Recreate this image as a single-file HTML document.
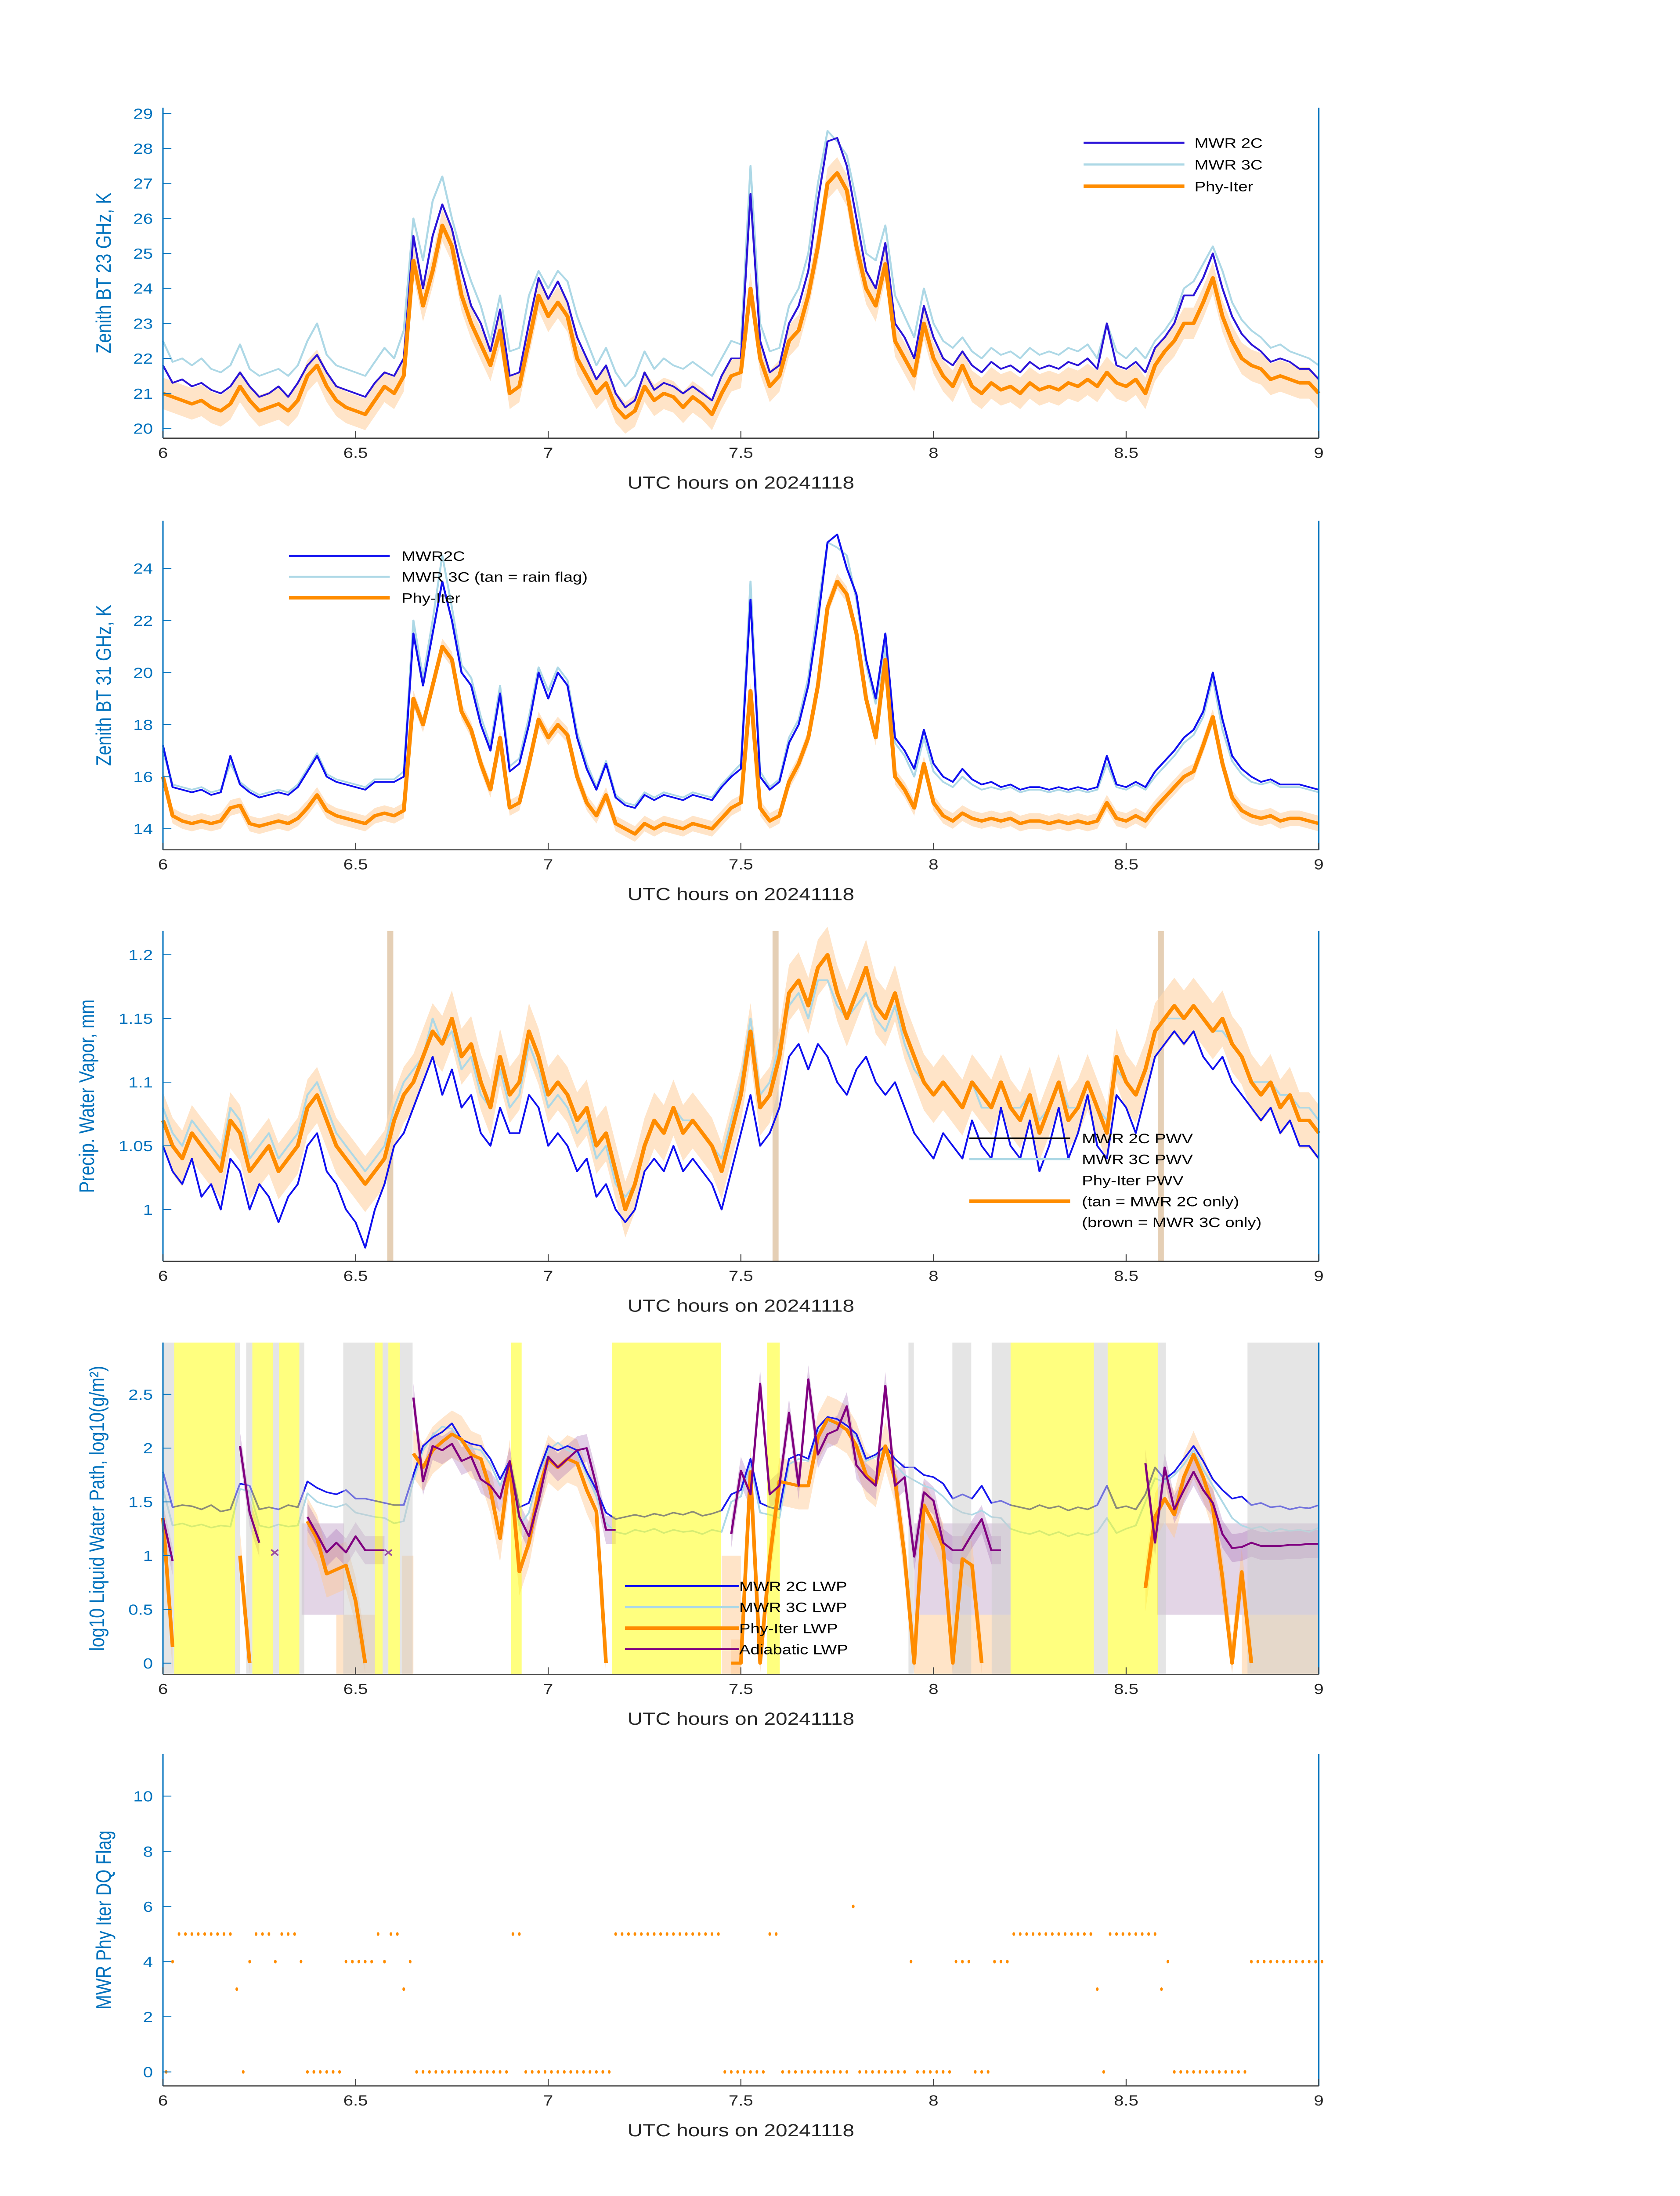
<!DOCTYPE html>
<html><head><meta charset="utf-8"><title>MWR BT / PWV / LWP / DQ flag</title>
<style>
html,body{margin:0;padding:0;background:#fff;width:100%;height:100%;overflow:hidden;}
svg{display:block;position:absolute;left:0;top:0;width:100vw;height:100vh;font-family:"Liberation Sans","DejaVu Sans",sans-serif;}
</style></head>
<body>
<svg id="fig" xmlns="http://www.w3.org/2000/svg" viewBox="0 0 1000 1568.63" preserveAspectRatio="none"></svg>
<script>
// ---------- DATA ----------
const bt23_2c=[21.8,21.3,21.4,21.2,21.3,21.1,21.0,21.2,21.6,21.2,20.9,21.0,21.2,20.9,21.3,21.8,22.1,21.6,21.2,21.1,21.0,20.9,21.3,21.6,21.5,22.0,25.5,24.0,25.5,26.4,25.7,24.5,23.5,23.0,22.2,23.4,21.5,21.6,23.0,24.3,23.7,24.2,23.6,22.6,22.0,21.4,21.8,21.0,20.6,20.8,21.6,21.1,21.3,21.2,21.0,21.2,21.0,20.8,21.5,22.0,22.0,26.7,22.5,21.6,21.8,23.0,23.5,24.5,26.5,28.2,28.3,27.5,26.0,24.5,24.0,25.3,23.0,22.6,22.0,23.5,22.6,22.0,21.8,22.2,21.8,21.6,21.9,21.7,21.8,21.6,21.9,21.7,21.8,21.7,21.9,21.8,22.0,21.7,23.0,21.8,21.7,21.9,21.6,22.3,22.6,23.0,23.8,23.8,24.3,25.0,24.0,23.2,22.7,22.4,22.2,21.9,22.0,21.9,21.7,21.7,21.4];
const bt23_3c=[22.5,21.9,22.0,21.8,22.0,21.7,21.6,21.8,22.4,21.7,21.5,21.6,21.7,21.5,21.8,22.5,23.0,22.1,21.8,21.7,21.6,21.5,21.9,22.3,22.0,22.8,26.0,24.8,26.5,27.2,26.0,25.0,24.2,23.5,22.5,23.8,22.2,22.3,23.8,24.5,24.0,24.5,24.2,23.2,22.5,21.8,22.3,21.6,21.2,21.5,22.2,21.7,22.0,21.8,21.7,21.9,21.7,21.5,22.0,22.5,22.4,27.5,23.0,22.2,22.3,23.5,24.0,25.0,27.0,28.5,28.2,27.8,26.5,25.0,24.8,25.8,23.8,23.2,22.6,24.0,23.0,22.5,22.3,22.6,22.2,22.0,22.3,22.1,22.2,22.0,22.3,22.1,22.2,22.1,22.3,22.2,22.4,22.0,23.0,22.2,22.0,22.3,22.0,22.5,22.8,23.2,24.0,24.2,24.7,25.2,24.5,23.6,23.1,22.8,22.6,22.3,22.4,22.2,22.1,22.0,21.8];
const bt23_phy=[21.0,20.9,20.8,20.7,20.8,20.6,20.5,20.7,21.2,20.8,20.5,20.6,20.7,20.5,20.8,21.5,21.8,21.2,20.8,20.6,20.5,20.4,20.8,21.2,21.0,21.5,24.8,23.5,24.5,25.8,25.2,23.8,23.0,22.4,21.8,22.8,21.0,21.2,22.5,23.8,23.2,23.6,23.2,22.0,21.5,21.0,21.3,20.6,20.3,20.5,21.2,20.8,21.0,20.9,20.6,20.9,20.7,20.4,21.0,21.5,21.6,24.0,22.0,21.2,21.5,22.5,22.8,23.8,25.2,27.0,27.3,26.8,25.2,24.0,23.5,24.7,22.5,22.0,21.5,23.0,22.0,21.5,21.2,21.8,21.2,21.0,21.3,21.1,21.2,21.0,21.3,21.1,21.2,21.1,21.3,21.2,21.4,21.2,21.6,21.3,21.2,21.4,21.0,21.8,22.2,22.5,23.0,23.0,23.6,24.3,23.2,22.5,22.0,21.8,21.7,21.4,21.5,21.4,21.3,21.3,21.0];
const bt31_2c=[17.2,15.6,15.5,15.4,15.5,15.3,15.4,16.8,15.7,15.4,15.2,15.3,15.4,15.3,15.6,16.2,16.8,16.0,15.8,15.7,15.6,15.5,15.8,15.8,15.8,16.0,21.5,19.5,21.5,23.5,22.0,20.0,19.5,18.0,17.0,19.2,16.2,16.5,18.0,20.0,19.0,20.0,19.5,17.5,16.3,15.5,16.5,15.2,14.9,14.8,15.3,15.1,15.3,15.2,15.1,15.3,15.2,15.1,15.6,16.0,16.3,22.8,16.0,15.5,15.8,17.3,18.0,19.5,22.0,25.0,25.3,24.0,23.0,20.5,19.0,21.5,17.5,17.0,16.3,17.8,16.5,16.0,15.8,16.3,15.9,15.7,15.8,15.6,15.7,15.5,15.6,15.6,15.5,15.6,15.5,15.6,15.5,15.6,16.8,15.7,15.6,15.8,15.6,16.2,16.6,17.0,17.5,17.8,18.5,20.0,18.2,16.8,16.3,16.0,15.8,15.9,15.7,15.7,15.7,15.6,15.5];
const bt31_3c=[17.0,15.7,15.6,15.5,15.6,15.4,15.5,16.5,15.8,15.5,15.3,15.4,15.5,15.4,15.7,16.3,16.9,16.1,15.9,15.8,15.7,15.6,15.9,15.9,15.9,16.2,22.0,19.8,22.0,24.5,22.5,20.3,19.8,18.3,17.2,19.5,16.4,16.7,18.3,20.2,19.3,20.2,19.7,17.7,16.5,15.6,16.6,15.3,15.0,14.9,15.4,15.2,15.4,15.3,15.2,15.4,15.3,15.2,15.7,16.1,16.5,23.5,16.2,15.6,15.9,17.5,18.2,19.8,22.5,25.0,24.8,24.5,22.8,20.3,18.8,21.0,17.3,16.8,16.0,17.5,16.2,15.8,15.6,16.0,15.7,15.5,15.6,15.5,15.6,15.4,15.5,15.5,15.4,15.5,15.4,15.5,15.4,15.5,16.5,15.6,15.5,15.7,15.5,16.0,16.4,16.8,17.3,17.6,18.3,19.8,17.8,16.6,16.1,15.8,15.7,15.8,15.6,15.6,15.6,15.5,15.4];
const bt31_phy=[16.0,14.5,14.3,14.2,14.3,14.2,14.3,14.8,14.9,14.2,14.1,14.2,14.3,14.2,14.4,14.8,15.3,14.7,14.5,14.4,14.3,14.2,14.5,14.6,14.5,14.7,19.0,18.0,19.5,21.0,20.5,18.5,17.8,16.5,15.5,17.5,14.8,15.0,16.5,18.2,17.5,18.0,17.6,16.0,15.0,14.5,15.3,14.2,14.0,13.8,14.2,14.0,14.2,14.1,14.0,14.2,14.1,14.0,14.4,14.8,15.0,19.3,14.8,14.3,14.5,15.8,16.5,17.5,19.5,22.5,23.5,23.0,21.5,19.0,17.5,20.5,16.0,15.5,14.8,16.5,15.0,14.5,14.3,14.6,14.4,14.3,14.4,14.3,14.4,14.2,14.3,14.3,14.2,14.3,14.2,14.3,14.2,14.3,15.0,14.4,14.3,14.5,14.3,14.8,15.2,15.6,16.0,16.2,17.2,18.3,16.5,15.2,14.7,14.5,14.4,14.5,14.3,14.4,14.4,14.3,14.2];
const pwv_2c=[1.05,1.03,1.02,1.04,1.01,1.02,1.00,1.04,1.03,1.00,1.02,1.01,0.99,1.01,1.02,1.05,1.06,1.03,1.02,1.00,0.99,0.97,1.00,1.02,1.05,1.06,1.08,1.10,1.12,1.09,1.11,1.08,1.09,1.06,1.05,1.08,1.06,1.06,1.09,1.08,1.05,1.06,1.05,1.03,1.04,1.01,1.02,1.00,0.99,1.00,1.03,1.04,1.03,1.05,1.03,1.04,1.03,1.02,1.00,1.03,1.06,1.09,1.05,1.06,1.08,1.12,1.13,1.11,1.13,1.12,1.10,1.09,1.11,1.12,1.10,1.09,1.10,1.08,1.06,1.05,1.04,1.06,1.05,1.04,1.07,1.05,1.04,1.08,1.05,1.04,1.07,1.03,1.05,1.08,1.04,1.06,1.09,1.05,1.04,1.09,1.08,1.06,1.09,1.12,1.13,1.14,1.13,1.14,1.12,1.11,1.12,1.10,1.09,1.08,1.07,1.08,1.06,1.07,1.05,1.05,1.04];
const pwv_3c=[1.08,1.06,1.05,1.07,1.06,1.05,1.04,1.08,1.07,1.04,1.05,1.06,1.04,1.05,1.06,1.09,1.10,1.08,1.06,1.05,1.04,1.03,1.04,1.05,1.08,1.10,1.11,1.12,1.15,1.13,1.14,1.11,1.12,1.09,1.08,1.11,1.08,1.09,1.13,1.11,1.08,1.09,1.08,1.06,1.07,1.04,1.05,1.02,1.01,1.02,1.05,1.07,1.06,1.08,1.07,1.07,1.06,1.05,1.04,1.07,1.10,1.15,1.09,1.10,1.13,1.16,1.17,1.15,1.18,1.18,1.16,1.15,1.16,1.17,1.15,1.14,1.16,1.13,1.11,1.10,1.09,1.10,1.09,1.08,1.10,1.08,1.08,1.10,1.08,1.08,1.09,1.07,1.08,1.10,1.08,1.08,1.10,1.08,1.07,1.11,1.10,1.09,1.11,1.14,1.15,1.15,1.15,1.16,1.15,1.14,1.14,1.13,1.12,1.10,1.10,1.10,1.09,1.09,1.08,1.08,1.07];
const pwv_phy=[1.07,1.05,1.04,1.06,1.05,1.04,1.03,1.07,1.06,1.03,1.04,1.05,1.03,1.04,1.05,1.08,1.09,1.07,1.05,1.04,1.03,1.02,1.03,1.04,1.07,1.09,1.10,1.12,1.14,1.13,1.15,1.12,1.13,1.10,1.08,1.12,1.09,1.10,1.14,1.12,1.09,1.10,1.09,1.07,1.08,1.05,1.06,1.03,1.00,1.02,1.05,1.07,1.06,1.08,1.06,1.07,1.06,1.05,1.03,1.06,1.09,1.14,1.08,1.09,1.12,1.17,1.18,1.16,1.19,1.20,1.17,1.15,1.17,1.19,1.16,1.15,1.17,1.14,1.12,1.10,1.09,1.10,1.09,1.08,1.10,1.09,1.08,1.10,1.08,1.07,1.09,1.06,1.08,1.10,1.07,1.08,1.10,1.08,1.06,1.12,1.10,1.09,1.11,1.14,1.15,1.16,1.15,1.16,1.15,1.14,1.15,1.13,1.12,1.10,1.09,1.10,1.08,1.09,1.07,1.07,1.06];
const pwvFlagTimes=[6.59,7.59,8.59];
const lwp_2c=[1.78,1.45,1.47,1.46,1.43,1.47,1.41,1.43,1.67,1.65,1.43,1.45,1.43,1.47,1.45,1.69,1.63,1.59,1.57,1.61,1.53,1.53,1.51,1.49,1.47,1.47,1.75,2.02,2.10,2.15,2.23,2.08,2.04,2.02,1.90,1.71,1.88,1.45,1.49,1.78,2.02,1.98,2.02,1.98,1.78,1.61,1.40,1.34,1.36,1.38,1.36,1.39,1.37,1.40,1.38,1.41,1.37,1.39,1.42,1.57,1.61,1.90,1.49,1.45,1.43,1.90,1.94,1.90,2.19,2.29,2.27,2.21,2.13,1.90,1.94,2.02,1.90,1.82,1.82,1.75,1.73,1.67,1.53,1.57,1.53,1.65,1.49,1.51,1.47,1.45,1.43,1.47,1.44,1.46,1.42,1.45,1.43,1.47,1.65,1.44,1.46,1.43,1.57,1.82,1.71,1.78,1.90,2.02,1.88,1.71,1.61,1.53,1.55,1.47,1.49,1.45,1.46,1.43,1.45,1.44,1.47];
const lwp_3c=[1.62,1.28,1.30,1.27,1.29,1.26,1.28,1.27,1.62,1.60,1.28,1.26,1.29,1.27,1.28,1.58,1.50,1.47,1.45,1.48,1.40,1.38,1.36,1.35,1.30,1.32,1.70,1.98,2.12,2.20,2.18,2.05,2.00,1.98,1.85,1.65,1.85,1.28,1.40,1.75,1.98,2.05,1.98,1.95,1.75,1.55,1.30,1.22,1.20,1.24,1.22,1.25,1.21,1.24,1.22,1.23,1.20,1.24,1.22,1.50,1.55,1.85,1.40,1.38,1.35,1.85,1.90,1.88,2.15,2.25,2.22,2.18,2.10,1.88,1.92,1.98,1.85,1.75,1.70,1.65,1.62,1.55,1.45,1.40,1.38,1.42,1.36,1.35,1.25,1.22,1.20,1.23,1.19,1.22,1.18,1.21,1.19,1.22,1.35,1.21,1.25,1.28,1.50,1.72,1.68,1.75,1.85,1.98,1.80,1.65,1.50,1.35,1.28,1.25,1.27,1.22,1.25,1.23,1.24,1.22,1.26];
const lwp_phy=[1.35,0.15,null,null,null,null,null,null,1.0,0.0,null,null,null,null,null,1.32,1.16,0.83,0.87,0.91,0.58,0.0,null,null,null,null,1.95,1.82,1.98,2.06,2.13,2.08,1.94,1.90,1.61,1.16,1.86,0.85,1.12,1.61,1.90,1.82,1.90,1.86,1.61,1.41,0.0,null,null,null,null,null,null,null,null,null,null,null,null,0.0,0.0,1.78,0.0,0.97,1.69,1.67,1.65,1.65,2.10,2.27,2.23,2.17,2.02,1.75,1.67,2.02,1.71,0.99,0.0,1.47,1.30,1.08,0.0,0.97,0.91,0.0,null,null,null,null,null,null,null,null,null,null,null,null,null,null,null,null,0.70,1.36,1.53,1.38,1.73,1.94,1.73,1.45,0.79,0.0,0.85,0.0,null,null,null,null,null,null,null];
const lwp_adiab=[1.35,0.95,null,null,null,null,null,null,2.02,1.40,1.12,null,null,null,null,1.36,1.20,1.03,1.12,1.03,1.18,1.05,1.05,1.05,null,null,2.47,1.69,2.02,1.98,2.04,1.88,1.92,1.71,1.65,1.53,1.88,1.36,1.18,1.51,1.92,1.82,1.90,1.98,2.00,1.65,1.24,1.24,null,null,null,null,null,null,null,null,null,null,null,1.20,1.79,1.57,2.60,1.57,1.65,2.33,1.65,2.64,1.94,2.13,2.17,2.39,1.84,1.73,1.65,2.58,1.65,1.73,0.99,1.59,1.51,1.12,1.05,1.05,1.20,1.34,1.05,1.05,null,null,null,null,null,null,null,null,null,null,null,null,null,null,1.86,1.12,1.82,1.43,1.61,1.78,1.61,1.49,1.20,1.07,1.08,1.12,1.09,1.09,1.09,1.10,1.10,1.11,1.11];
const lwpAdiabMarkers=[[6.29,1.03],[6.585,1.03]];
const rainYellow=[[6.029,6.187],[6.232,6.285],[6.301,6.354],[6.550,6.570],[6.585,6.615],[6.904,6.931],[7.165,7.448],[7.568,7.601],[8.200,8.416],[8.452,8.583]];
const rainGray=[[6.0,6.029],[6.187,6.200],[6.216,6.232],[6.285,6.301],[6.354,6.367],[6.468,6.550],[6.570,6.585],[6.615,6.648],[7.935,7.949],[8.049,8.098],[8.151,8.200],[8.416,8.452],[8.583,8.603],[8.815,9.0]];
const lwpUncRegions=[[6.36,6.47,0.45,1.3],[7.95,8.2,0.45,1.3],[8.58,9.0,0.45,1.3]];
const lwpLowRegions=[[6.45,6.55,-0.1,0.45],[6.62,6.65,-0.1,1.0],[7.45,7.5,-0.1,1.0],[7.95,8.2,-0.1,0.45],[8.8,9.0,-0.1,0.45]];
// DQ flag runs: [start minute after 06:00, count, flag value]
const dqRuns=[[2,9,5],[14,3,5],[18,3,5],[33,1,5],[35,2,5],[54,2,5],[70,17,5],[94,2,5],[132,13,5],[147,8,5],[107,1,6],
[1,1,4],[13,1,4],[17,1,4],[21,1,4],[28,5,4],[34,1,4],[38,1,4],[116,1,4],[123,3,4],[129,3,4],[156,1,4],[169,12,4],
[11,1,3],[37,1,3],[145,1,3],[155,1,3],
[0,1,0],[12,1,0],[22,6,0],[39,15,0],[56,14,0],[87,7,0],[96,11,0],[108,8,0],[117,6,0],[126,3,0],[146,1,0],[157,12,0]];
const xTicks=[6,6.5,7,7.5,8,8.5,9];
const xTickLabels=["6","6.5","7","7.5","8","8.5","9"];
const y1Ticks=[20,21,22,23,24,25,26,27,28,29];
const y2Ticks=[14,16,18,20,22,24];
const y3Ticks=[1,1.05,1.1,1.15,1.2];
const y3TickLabels=["1","1.05","1.1","1.15","1.2"];
const y4Ticks=[0,0.5,1,1.5,2,2.5];
const y5Ticks=[0,2,4,6,8,10];

// ---------- SCALES ----------
const NS='http://www.w3.org/2000/svg';
const svg=document.getElementById('fig');
const X=t=>97+(t-6)*229.33;
const Y1=v=>81+(29-v)*25;
const Y2=v=>406+(24-v)*18.6;
const Y3=v=>864-(v-1)*910;
const Y4=v=>1188-v*76.8;
const Y5=v=>1480-v*19.7;
const tOf=(i,n)=>6+3*i/(n-1);
const BLUE='#0072bd', C2='#2b14d8', C3='#add8e6', PHY='#ff8c00', ADB='#800080';

function mk(tag,attrs,parent){const e=document.createElementNS(NS,tag);for(const k in attrs)e.setAttribute(k,attrs[k]);(parent||svg).appendChild(e);return e;}
function group(name){const g=mk('g',{});return g;}
function txt(s,x,y,attrs,parent,name){const e=mk('text',Object.assign({x:x,y:y},attrs),parent);e.textContent=s;return e;}
function seriesPath(vals,Y){let d='',pen=false;vals.forEach((v,i)=>{if(v===null){pen=false;return;}d+=(pen?'L':'M')+X(tOf(i,vals.length)).toFixed(2)+','+Y(v).toFixed(2);pen=true;});return d;}
function line(vals,Y,color,w,name,parent){const p=mk('path',{d:seriesPath(vals,Y),fill:'none',stroke:color,'stroke-width':w,'stroke-linejoin':'round'},parent);return p;}
function band(vals,Y,half,color,op,name,parent,floor){
  let segs=[],cur=[];vals.forEach((v,i)=>{if(v===null){if(cur.length)segs.push(cur);cur=[];}else cur.push([tOf(i,vals.length),v]);});if(cur.length)segs.push(cur);
  segs.forEach(s=>{let d='M'+s.map(p=>X(p[0]).toFixed(2)+','+Y(p[1]+half).toFixed(2)).join('L');
    d+='L'+s.slice().reverse().map(p=>X(p[0]).toFixed(2)+','+Y(floor!==undefined?Math.max(floor,p[1]-half):p[1]-half).toFixed(2)).join('L')+'Z';
    const e=mk('path',{d:d,fill:color,'fill-opacity':op,stroke:'none'},parent);});
}
function axes(g,top,bot,Y,ticks,labels,ylabel,ylx,pname){
  const la=mk('line',{x1:97,y1:top,x2:97,y2:bot,stroke:BLUE,'stroke-width':0.8},g);
  const ra=mk('line',{x1:785,y1:top,x2:785,y2:bot,stroke:BLUE,'stroke-width':0.8},g);
  const ba=mk('line',{x1:97,y1:bot,x2:785,y2:bot,stroke:'#404040','stroke-width':0.8},g);
  xTicks.forEach((t,i)=>{const tk=mk('line',{x1:X(t),y1:bot,x2:X(t),y2:bot-5,stroke:'#404040','stroke-width':0.6},g);
    txt(xTickLabels[i],X(t),bot+14,{'font-size':10.5,'text-anchor':'middle',fill:'#262626'},g,pname+'-x-tick-label');});
  ticks.forEach((v,i)=>{const tk=mk('line',{x1:97,y1:Y(v),x2:102,y2:Y(v),stroke:BLUE,'stroke-width':0.6},g);
    txt(labels?labels[i]:String(v),91,Y(v)+3.8,{'font-size':10.5,'text-anchor':'end',fill:BLUE},g,pname+'-y-tick-label');});
  txt('UTC hours on 20241118',441,bot+36,{'font-size':12.5,'text-anchor':'middle',fill:'#262626'},g,pname+'-x-axis-title');
  const cy=(top+bot)/2;
  txt(ylabel,ylx,cy,{'font-size':12.5,'text-anchor':'middle',fill:BLUE,transform:'rotate(-90 '+ylx+' '+cy+')'},g,pname+'-y-axis-title');
}
function legend(g,items,x0,x1,tx,y0,dy,pname){items.forEach((it,i)=>{const y=y0+i*dy;if(it[1]){const l=mk('line',{x1:x0,y1:y,x2:x1,y2:y,stroke:it[1],'stroke-width':it[2]},g);}
  txt(it[0],tx,y+3.6,{'font-size':10,fill:'#000'},g,pname+'-legend-entry');});}

// ---------- PANEL 1 ----------
let g=group('panel-bt23');
band(bt23_phy,Y1,0.45,'#ffd8b0',0.7,'bt23-phy-uncertainty-band',g);
line(bt23_3c,Y1,C3,1.2,'bt23-mwr3c-line',g);
line(bt23_2c,Y1,C2,1.2,'bt23-mwr2c-line',g);
line(bt23_phy,Y1,PHY,2.4,'bt23-phy-iter-line',g);
axes(g,77,313,Y1,y1Ticks,null,'Zenith BT 23 GHz, K',66,'bt23');
legend(g,[['MWR 2C',C2,1.5],['MWR 3C',C3,1.5],['Phy-Iter',PHY,2.5]],645,705,711,102,15.5,'bt23');

// ---------- PANEL 2 ----------
g=group('panel-bt31');
band(bt31_phy,Y2,0.3,'#ffd8b0',0.7,'bt31-phy-uncertainty-band',g);
line(bt31_3c,Y2,C3,1.2,'bt31-mwr3c-line',g);
line(bt31_2c,Y2,'#1010f0',1.2,'bt31-mwr2c-line',g);
line(bt31_phy,Y2,PHY,2.4,'bt31-phy-iter-line',g);
axes(g,372,607,Y2,y2Ticks,null,'Zenith BT 31 GHz, K',66,'bt31');
legend(g,[['MWR2C','#1010f0',1.5],['MWR 3C (tan = rain flag)',C3,1.5],['Phy-Iter',PHY,2.5]],172,232,239,397,15,'bt31');

// ---------- PANEL 3 ----------
g=group('panel-pwv');
pwvFlagTimes.forEach(t=>{const r=mk('rect',{x:X(t)-1.8,y:665,width:3.6,height:236,fill:'#e5cfb5'},g);});
band(pwv_phy,Y3,0.022,'#ffd8b0',0.7,'pwv-phy-uncertainty-band',g);
line(pwv_3c,Y3,C3,1.2,'pwv-mwr3c-line',g);
line(pwv_2c,Y3,'#1010f0',1.1,'pwv-mwr2c-line',g);
line(pwv_phy,Y3,PHY,2.4,'pwv-phy-iter-line',g);
axes(g,665,901,Y3,y3Ticks,y3TickLabels,'Precip. Water Vapor, mm',56,'pwv');
legend(g,[['MWR 2C PWV','#000',1],['MWR 3C PWV',C3,1.5],['Phy-Iter PWV',null,0],['(tan = MWR 2C only)',PHY,2.5],['(brown = MWR 3C only)',null,0]],577,637,644,813,15,'pwv');

// ---------- PANEL 4 ----------
g=group('panel-lwp');
lwpLowRegions.forEach(r=>{const e=mk('rect',{x:X(r[0]),y:Y4(r[3]),width:X(r[1])-X(r[0]),height:Y4(r[2])-Y4(r[3]),fill:'#ffe4c8'},g);});
lwpUncRegions.forEach(r=>{const e=mk('rect',{x:X(r[0]),y:Y4(r[3]),width:X(r[1])-X(r[0]),height:Y4(r[2])-Y4(r[3]),fill:'#b088b8','fill-opacity':0.35},g);});
band(lwp_phy,Y4,0.22,'#ffc890',0.45,'lwp-phy-uncertainty-band',g,-0.1);
band(lwp_adiab,Y4,0.13,'#a060b0',0.3,'lwp-adiabatic-band',g);
line(lwp_3c,Y4,C3,1.1,'lwp-mwr3c-line',g);
line(lwp_2c,Y4,'#1818ee',1.1,'lwp-mwr2c-line',g);
rainGray.forEach(r=>{const e=mk('rect',{x:X(r[0]),y:959,width:X(r[1])-X(r[0]),height:237,fill:'#cccccc','fill-opacity':0.5},g);});
rainYellow.forEach(r=>{const e=mk('rect',{x:X(r[0]),y:959,width:X(r[1])-X(r[0]),height:237,fill:'#ffff00','fill-opacity':0.5},g);});
line(lwp_phy,Y4,PHY,2.2,'lwp-phy-iter-line',g);
line(lwp_adiab,Y4,ADB,1.3,'lwp-adiabatic-line',g);
lwpAdiabMarkers.forEach(m=>{txt('×',X(m[0]),Y4(m[1])+3.5,{'font-size':10,'text-anchor':'middle',fill:'#9b4fa0','font-weight':'bold'},g,'lwp-adiabatic-marker');});
axes(g,959,1196,Y4,y4Ticks,null,'log10 Liquid Water Path, log10(g/m²)',62,'lwp');
legend(g,[['MWR 2C LWP','#1010f0',1.5],['MWR 3C LWP',C3,1.5],['Phy-Iter LWP',PHY,2.5],['Adiabatic LWP',ADB,1.3]],372,440,440,1133,15,'lwp');

// ---------- PANEL 5 ----------
g=group('panel-dq-flag');
dqRuns.forEach(r=>{for(let k=0;k<r[1];k++){const t=6+(r[0]+k+0.5)/60;
  const e=mk('ellipse',{cx:X(t).toFixed(2),cy:Y5(r[2]).toFixed(2),rx:0.8,ry:1.3,fill:PHY},g);
  
  }});
axes(g,1253,1490,Y5,y5Ticks,null,'MWR Phy Iter DQ Flag',66,'dq');
</script>
</body></html>
